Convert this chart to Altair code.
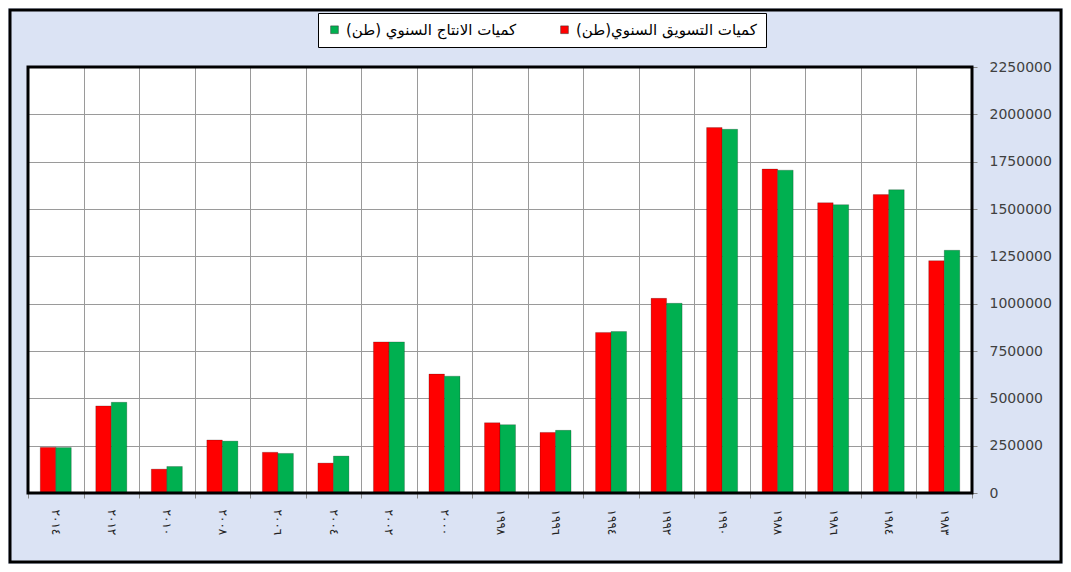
import altair as alt
import pandas as pd

years = ["٢٠١٤", "٢٠١٢", "٢٠١٠", "٢٠٠٨", "٢٠٠٦", "٢٠٠٤", "٢٠٠٢", "٢٠٠٠", "١٩٩٨",
         "١٩٩٦", "١٩٩٤", "١٩٩٢", "١٩٩٠", "١٩٨٨", "١٩٨٦", "١٩٨٤", "١٩٨٣"]
marketing = [241000, 460000, 126000, 280000, 215000, 158000, 798000, 628000, 371000,
             320000, 848000, 1028000, 1930000, 1711000, 1533000, 1576000, 1227000]
production = [240000, 479000, 140000, 274000, 209000, 195000, 798000, 617000, 361000,
              331000, 853000, 1002000, 1921000, 1705000, 1523000, 1602000, 1282000]
y_ticks = [0, 250000, 500000, 750000, 1000000, 1250000, 1500000, 1750000, 2000000, 2250000]

red_name = "كميات التسويق السنوي(طن)"
green_name = "كميات الانتاج السنوي (طن)"

rows = []
for i, y in enumerate(years):
    rows.append({"year": y, "series": red_name, "value": marketing[i]})
    rows.append({"year": y, "series": green_name, "value": production[i]})
df = pd.DataFrame(rows)

W, H = 944, 426

bars = alt.Chart(df).mark_bar(stroke="#000000", strokeWidth=0.6, strokeOpacity=0.35).encode(
    x=alt.X("year:N", sort=years, title=None,
            scale=alt.Scale(paddingInner=0, paddingOuter=0),
            axis=alt.Axis(tickBand="extent", labelAngle=90, labelFont="DejaVu Sans",
                          labelFontSize=12, labelColor="#222222", labelPadding=11,
                          tickSize=5, tickColor="#888888", domain=False,
                          grid=True, gridColor="#9a9a9a", gridWidth=1)),
    xOffset=alt.XOffset("series:N", sort=[red_name, green_name],
                        scale=alt.Scale(paddingOuter=0.79, paddingInner=0)),
    y=alt.Y("value:Q", title=None,
            scale=alt.Scale(domain=[0, 2250000], nice=False),
            axis=alt.Axis(orient="right", values=y_ticks, format="d",
                          labelFont="DejaVu Sans", labelFontSize=14, labelColor="#404040",
                          tickSize=5, tickColor="#888888", labelPadding=12, domain=False,
                          grid=True, gridColor="#9a9a9a", gridWidth=1)),
    color=alt.Color("series:N",
                    scale=alt.Scale(domain=[green_name, red_name], range=["#00b050", "#ff0000"]),
                    legend=alt.Legend(orient="none", legendX=290, legendY=-54,
                                      direction="horizontal", title=None,
                                      symbolType="square", symbolSize=60,
                                      symbolStrokeColor="#333333", symbolStrokeWidth=0.5,
                                      labelFont="DejaVu Sans", labelFontSize=15,
                                      labelColor="#000000", labelLimit=400,
                                      columnPadding=40, padding=9,
                                      fillColor="#ffffff", strokeColor="#000000")),
)

one = alt.Data(values=[{"a": 1}])

outer = alt.Chart(one).mark_rect(
    filled=False, stroke="#000000", strokeWidth=3, clip=False
).encode(
    x=alt.value(-18), x2=alt.value(1033), y=alt.value(-57), y2=alt.value(495)
)

plot_frame = alt.Chart(one).mark_rect(
    filled=False, stroke="#000000", strokeWidth=3, clip=False
).encode(
    x=alt.value(0), x2=alt.value(W), y=alt.value(0), y2=alt.value(H)
)

chart = alt.layer(outer, bars, plot_frame).properties(
    width=W, height=H,
    padding={"left": 20, "top": 59, "right": 91, "bottom": 71},
    autosize=alt.AutoSizeParams(type="none"),
    background="#dbe3f4",
).configure_view(
    stroke=None, fill="#ffffff"
)

chart.save("out.html", embed_options={"renderer": "svg", "actions": False})
